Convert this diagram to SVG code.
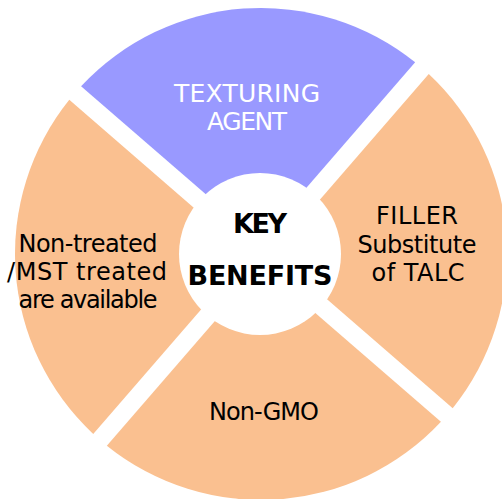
<svg xmlns="http://www.w3.org/2000/svg" width="502" height="499" viewBox="0 0 502 499">
<style>
.purple{fill:#9999FF}
.orange{fill:#FAC090}
.lbl{font-family:"DejaVu Sans","Liberation Sans",sans-serif;font-size:24px;fill:#000;text-anchor:middle}
.wht{fill:#FFFFFF;font-size:25px}
.key{font-weight:bold;font-size:27px}
</style>
<rect x="0" y="0" width="502" height="499" fill="#FFFFFF"/>
<g id="ring" transform="translate(261,254) rotate(-4.1)">
  <path id="sector-top" class="purple" d="M0,-12.73 L-167.47,-180.2 A246,246 0 0 1 167.47,-180.2 Z"/>
  <path id="sector-right" class="orange" d="M12.73,0 L180.2,-167.47 A246,246 0 0 1 180.2,167.47 Z"/>
  <path id="sector-bottom" class="orange" d="M0,12.73 L167.47,180.2 A246,246 0 0 1 -167.47,180.2 Z"/>
  <path id="sector-left" class="orange" d="M-12.73,0 L-180.2,167.47 A246,246 0 0 1 -180.2,-167.47 Z"/>
</g>
<g id="connectors"></g>
<g id="node-texturing">
  <text class="lbl wht" x="247" y="102" textLength="146">TEXTURING</text>
  <text class="lbl wht" x="247" y="130" textLength="80">AGENT</text>
</g>
<g id="node-filler">
  <text class="lbl" x="417" y="224" textLength="82">FILLER</text>
  <text class="lbl" x="417" y="253" textLength="119">Substitute</text>
  <text class="lbl" x="418" y="281" textLength="93">of TALC</text>
</g>
<g id="node-treated">
  <text class="lbl" x="88" y="252" textLength="139">Non-treated</text>
  <text class="lbl" x="87" y="280" textLength="160">/MST treated</text>
  <text class="lbl" x="88" y="308" textLength="139">are available</text>
</g>
<g id="node-nongmo">
  <text class="lbl" x="264" y="420" textLength="110">Non-GMO</text>
</g>
<g id="node-center">
  <circle cx="260" cy="254" r="81" fill="#FFFFFF"/>
  <text class="lbl key" x="260" y="233" textLength="54">KEY</text>
  <text class="lbl key" x="260" y="285" textLength="145">BENEFITS</text>
</g>
</svg>
